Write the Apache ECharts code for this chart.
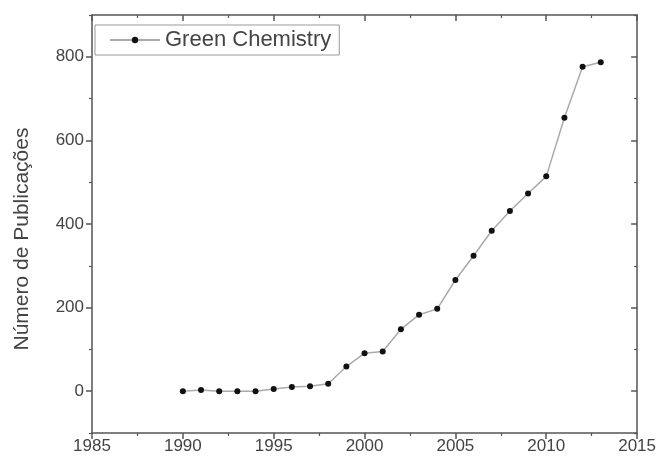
<!DOCTYPE html>
<html><head><meta charset="utf-8">
<script src="https://cdn.jsdelivr.net/npm/echarts@6/dist/echarts.min.js"></script>
<style>html,body{margin:0;padding:0;background:#fff}#c{width:659px;height:462px}</style>
</head><body><div id="c"></div>
<script>
const years = [1990,1991,1992,1993,1994,1995,1996,1997,1998,1999,2000,2001,2002,2003,2004,2005,2006,2007,2008,2009,2010,2011,2012,2013];
const publications = [0,3,0,0,0,5,10,12,18,59,91,95,148,183,197,266,324,384,431,473,514,654,776,787];
const seriesName = 'Green Chemistry';
const yLabelValues = [0,200,400,600,800];
const yMinorValues = [-100,100,300,500,700,900];
const yAxisTitle = 'Número de Publicações';

const axisColor = '#555';
const font = 'Liberation Sans, Arial, sans-serif';
const chart = echarts.init(document.getElementById('c'));
const baseLine = {show:true, onZero:false, lineStyle:{color:axisColor, width:1.5}};
const plain = v => String(v);
chart.setOption({
  animation:false,
  grid:{left:92, right:19, top:15, bottom:29, containLabel:false},
  legend:{
    data:[seriesName], left:95, top:25, orient:'horizontal',
    itemWidth:50, itemHeight:8, itemGap:6,
    padding:[4,8,4,14], borderColor:'#999', borderWidth:1,
    textStyle:{fontFamily:font, fontSize:22, color:'#444'}
  },
  graphic:[{
    type:'text', x:22, y:239, rotation:Math.PI/2,
    style:{text:yAxisTitle, fontFamily:font, fontSize:21, fill:'#444',
           align:'center', verticalAlign:'middle'}
  }],
  xAxis:[
    {type:'value', min:1985, max:2015, interval:5, position:'bottom',
     axisLine:baseLine, splitLine:{show:false},
     axisTick:{show:true, inside:false, length:6, lineStyle:{color:axisColor, width:1.5}},
     minorTick:{show:true, splitNumber:2, length:3, lineStyle:{color:axisColor, width:1.2}},
     axisLabel:{fontFamily:font, fontSize:17, color:'#444', margin:5, formatter:plain}},
    {type:'value', min:1985, max:2015, interval:5, position:'top',
     axisLine:baseLine, splitLine:{show:false},
     axisTick:{show:true, inside:true, length:6, lineStyle:{color:axisColor, width:1.5}},
     minorTick:{show:true, splitNumber:2, length:3, lineStyle:{color:axisColor, width:1.2}},
     axisLabel:{show:false}}
  ],
  yAxis:[
    {type:'value', min:-100, max:900, interval:100, position:'left',
     axisLine:baseLine, splitLine:{show:false},
     axisTick:{show:true, inside:false, length:6, customValues:yLabelValues, lineStyle:{color:axisColor, width:1.5}},
     axisLabel:{fontFamily:font, fontSize:17, color:'#444', margin:8, customValues:yLabelValues, formatter:plain}},
    {type:'value', min:-100, max:900, interval:100, position:'left', offset:0,
     axisLine:{show:false, onZero:false}, splitLine:{show:false},
     axisTick:{show:true, inside:false, length:3, customValues:yMinorValues, lineStyle:{color:axisColor, width:1.2}},
     axisLabel:{show:false}},
    {type:'value', min:-100, max:900, interval:100, position:'right',
     axisLine:baseLine, splitLine:{show:false},
     axisTick:{show:true, inside:true, length:6, customValues:yLabelValues, lineStyle:{color:axisColor, width:1.5}},
     axisLabel:{show:false}},
    {type:'value', min:-100, max:900, interval:100, position:'right', offset:0,
     axisLine:{show:false, onZero:false}, splitLine:{show:false},
     axisTick:{show:true, inside:true, length:3, customValues:yMinorValues, lineStyle:{color:axisColor, width:1.2}},
     axisLabel:{show:false}}
  ],
  series:[{
    name:seriesName, type:'line', xAxisIndex:0, yAxisIndex:0,
    data:years.map((y,i)=>[y,publications[i]]),
    symbol:'circle', symbolSize:6,
    itemStyle:{color:'#111'},
    lineStyle:{color:'#aaa', width:1.5}
  }]
});
</script></body></html>
